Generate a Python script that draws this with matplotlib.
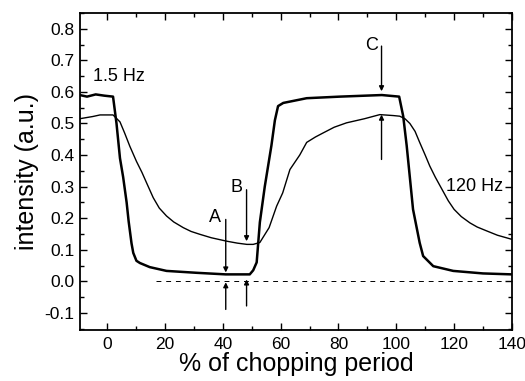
import matplotlib
matplotlib.use("Agg")
import matplotlib.pyplot as plt
from matplotlib.ticker import MultipleLocator

plt.rcParams['font.family'] = ['Liberation Sans', 'DejaVu Sans']
plt.rcParams['axes.unicode_minus'] = False

# 1.5 Hz trace (square-like response)
x_slow = [-9.5, -7, -4, -1, 2.0, 3.2, 4.4, 5.5, 6.7, 7.4, 8.4, 9.0, 10.1, 11.3,
          14.7, 20.5, 30.9, 41.0, 49.3, 50.5, 51.7, 52.8, 54.5, 56.8, 58.0,
          59.1, 60.9, 69.0, 80.5, 95.0, 101.0, 102.4, 103.6, 104.8, 105.8,
          108.1, 109.3, 112.8, 119.7, 130.0, 140.0]
y_slow = [0.59, 0.585, 0.592, 0.588, 0.585, 0.50, 0.39, 0.33, 0.25, 0.19, 0.12,
          0.09, 0.065, 0.058, 0.045, 0.033, 0.027, 0.022, 0.022, 0.035, 0.06,
          0.187, 0.30, 0.43, 0.51, 0.555, 0.565, 0.58, 0.585, 0.59, 0.585,
          0.523, 0.43, 0.32, 0.228, 0.122, 0.08, 0.048, 0.033, 0.025, 0.022]

# 120 Hz trace (smoothed response)
x_fast = [-9.5, -5, -2.5, 2.0, 4.4, 6.0, 7.8, 10.1, 12.0, 13.6, 15.9, 18.0,
          20.5, 23.0, 26.3, 29.0, 32.0, 36.0, 41.4, 45.0, 48.3, 50.5, 52.8,
          56.0, 58.6, 60.7, 63.2, 66.6, 69.0, 72.0, 74.7, 78.5, 82.8, 89.0,
          94.3, 99.0, 101.2, 103.0, 104.7, 106.5, 108.1, 110.0, 111.6, 113.5,
          115.0, 118.0, 120.0, 122.5, 125.5, 128.0, 131.2, 135.0, 140.0]
y_fast = [0.515, 0.522, 0.527, 0.527, 0.505, 0.47, 0.428, 0.38, 0.345, 0.312,
          0.265, 0.232, 0.207, 0.188, 0.17, 0.158, 0.149, 0.138, 0.127, 0.121,
          0.117, 0.117, 0.123, 0.17, 0.238, 0.28, 0.354, 0.40, 0.44, 0.457,
          0.47, 0.488, 0.502, 0.515, 0.528, 0.525, 0.523, 0.515, 0.50, 0.475,
          0.44, 0.40, 0.365, 0.33, 0.305, 0.255, 0.228, 0.205, 0.185, 0.172,
          0.16, 0.146, 0.133]

fig = plt.figure(figsize=(5.25, 3.81), dpi=100)
ax = fig.add_axes([0.152, 0.134, 0.823, 0.832])

ax.plot(x_slow, y_slow, color='black', lw=1.8)
ax.plot(x_fast, y_fast, color='black', lw=1.0)
ax.plot([17, 140], [0, 0], color='black', lw=0.7, ls=(0, (5, 5)))

arrow = dict(arrowstyle='-|>', color='black', lw=1.0,
             mutation_scale=7, shrinkA=0, shrinkB=0)
# A
ax.annotate('', xy=(41.0, 0.028), xytext=(41.0, 0.196), arrowprops=arrow)
ax.annotate('', xy=(41.0, -0.003), xytext=(41.0, -0.089), arrowprops=arrow)
# B
ax.annotate('', xy=(48.2, 0.127), xytext=(48.2, 0.29), arrowprops=arrow)
ax.annotate('', xy=(48.2, 0.006), xytext=(48.2, -0.078), arrowprops=arrow)
# C
ax.annotate('', xy=(94.9, 0.602), xytext=(94.9, 0.745), arrowprops=arrow)
ax.annotate('', xy=(94.9, 0.528), xytext=(94.9, 0.386), arrowprops=arrow)

ax.text(37.2, 0.187, 'A', fontsize=13, ha='center', va='baseline')
ax.text(44.7, 0.282, 'B', fontsize=13, ha='center', va='baseline')
ax.text(91.4, 0.734, 'C', fontsize=13, ha='center', va='baseline')
ax.text(-5, 0.65, '1.5 Hz', fontsize=13, ha='left', va='center')
ax.text(136.9, 0.30, '120 Hz', fontsize=13, ha='right', va='center')

ax.set_xlim(-9.5, 140)
ax.set_ylim(-0.154, 0.85)
ax.xaxis.set_major_locator(MultipleLocator(20))
ax.xaxis.set_minor_locator(MultipleLocator(10))
ax.yaxis.set_major_locator(MultipleLocator(0.1))
ax.yaxis.set_minor_locator(MultipleLocator(0.05))
ax.tick_params(which='both', direction='in', top=True, right=True, labelsize=12.5)
ax.tick_params(which='major', length=5, width=1)
ax.tick_params(which='minor', length=3, width=1)
ax.tick_params(axis='x', pad=5)
ax.tick_params(axis='y', pad=4)
for s in ax.spines.values():
    s.set_linewidth(1.3)

ax.set_xlabel('% of chopping period', fontsize=18, labelpad=0)
ax.set_ylabel('intensity (a.u.)', fontsize=18, labelpad=4)

fig.savefig('out.png', dpi=100)
